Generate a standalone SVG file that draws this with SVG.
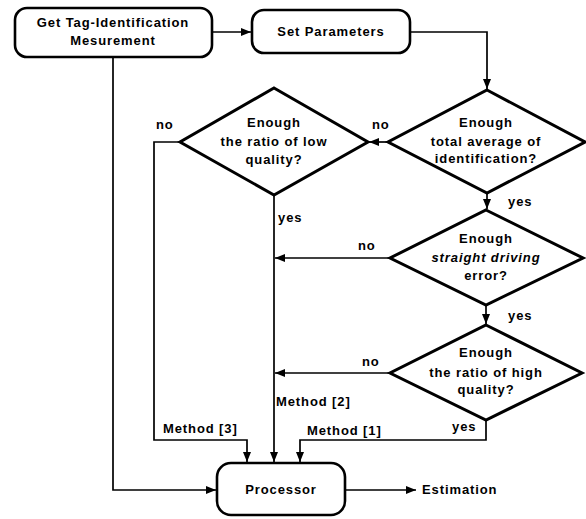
<svg xmlns="http://www.w3.org/2000/svg" width="586" height="519" viewBox="0 0 586 519">
<style>
.box{fill:#fff;stroke:#000;stroke-width:2.6}
.dia{fill:#fff;stroke:#000;stroke-width:3;stroke-linejoin:miter}
.ln{fill:none;stroke:#000;stroke-width:1.7}
text{font-family:"Liberation Sans",Arial,sans-serif;font-weight:bold;font-size:13px;letter-spacing:0.9px;fill:#000;text-anchor:middle}
.l{text-anchor:start}
</style>
<defs>
<marker id="ar" markerWidth="10" markerHeight="8" refX="10" refY="4" orient="auto" markerUnits="userSpaceOnUse">
<path d="M0,0 L10,4 L0,8 Z" fill="#000"/>
</marker>
</defs>
<rect width="586" height="519" fill="#fff"/>
<g id="connectors">
<path class="ln" d="M212,32 H251" marker-end="url(#ar)"/>
<path class="ln" d="M410,32 H487 V89" marker-end="url(#ar)"/>
<path class="ln" d="M388,142 H369" marker-end="url(#ar)"/>
<path class="ln" d="M487,193 V209" marker-end="url(#ar)"/>
<path class="ln" d="M486,306 V324" marker-end="url(#ar)"/>
<path class="ln" d="M390,258 H275" marker-end="url(#ar)"/>
<path class="ln" d="M390,373 H275" marker-end="url(#ar)"/>
<path class="ln" d="M274,196 V462" marker-end="url(#ar)"/>
<path class="ln" d="M180,142 H154 V440 H247 V462" marker-end="url(#ar)"/>
<path class="ln" d="M486,420 V440 H300 V462" marker-end="url(#ar)"/>
<path class="ln" d="M113,57 V490 H216" marker-end="url(#ar)"/>
<path class="ln" d="M345,490 H416" marker-end="url(#ar)"/>
</g>
<g id="get-tag">
<rect class="box" x="15" y="8" width="197" height="49" rx="12"/>
<text x="113" y="27">Get Tag-Identification</text>
<text x="113" y="45">Mesurement</text>
</g>
<g id="set-params">
<rect class="box" x="252" y="10" width="158" height="43" rx="12"/>
<text x="331" y="36">Set Parameters</text>
</g>
<g id="d-total">
<polygon class="dia" points="487,90 585,142 487,193 388,142"/>
<text x="486" y="127">Enough</text>
<text x="486" y="146">total average of</text>
<text x="486" y="163">identification?</text>
</g>
<g id="d-low">
<polygon class="dia" points="274,88 368,142 274,195 180,142"/>
<text x="274" y="127">Enough</text>
<text x="274" y="146">the ratio of low</text>
<text x="274" y="164">quality?</text>
</g>
<g id="d-straight">
<polygon class="dia" points="486,210 583,258 486,305 390,258"/>
<text x="486" y="243">Enough</text>
<text x="486" y="262" font-style="italic">straight driving</text>
<text x="486" y="280">error?</text>
</g>
<g id="d-high">
<polygon class="dia" points="486,325 582,373 486,420 390,373"/>
<text x="486" y="357">Enough</text>
<text x="486" y="377">the ratio of high</text>
<text x="486" y="394">quality?</text>
</g>
<g id="processor">
<rect class="box" x="217" y="463" width="128" height="52" rx="14"/>
<text x="281" y="494">Processor</text>
</g>
<g id="labels">
<text class="l" x="156" y="129">no</text>
<text class="l" x="372" y="129">no</text>
<text class="l" x="278" y="222">yes</text>
<text class="l" x="508" y="206">yes</text>
<text class="l" x="358" y="250">no</text>
<text class="l" x="508" y="320">yes</text>
<text class="l" x="362" y="366">no</text>
<text class="l" x="276" y="406">Method [2]</text>
<text class="l" x="163" y="433">Method [3]</text>
<text class="l" x="307" y="435">Method [1]</text>
<text class="l" x="452" y="431">yes</text>
<text class="l" x="422" y="494">Estimation</text>
</g>
</svg>
